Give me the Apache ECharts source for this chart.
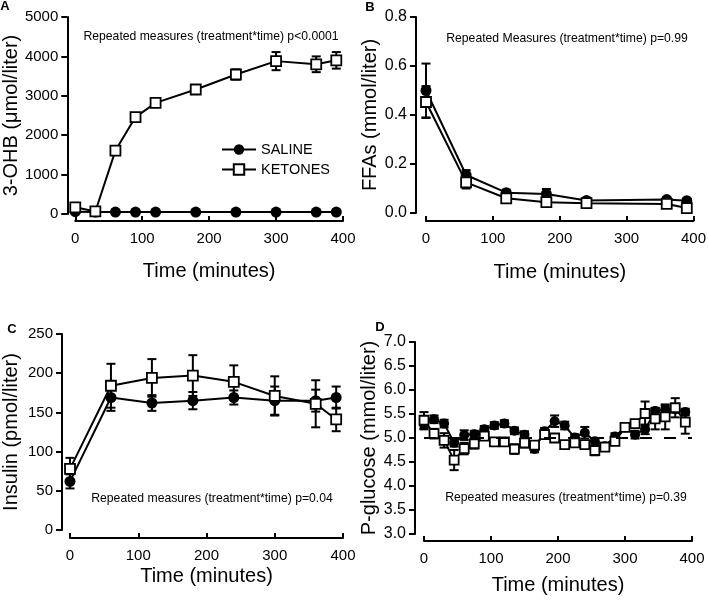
<!DOCTYPE html>
<html><head><meta charset="utf-8">
<script src="https://cdn.jsdelivr.net/npm/echarts@6/dist/echarts.min.js"></script>
<style>html,body{margin:0;padding:0;background:#fff}#c{width:709px;height:600px}</style>
</head><body><div id="c"></div>
<script>
// ---------- Panel A: 3-OHB ----------
const timesA = [0, 30, 60, 90, 120, 180, 240, 300, 360, 390];
const salineA = [60, 50, 50, 50, 50, 50, 50, 50, 50, 50];
const salineA_sem = [30, 20, 20, 20, 20, 20, 20, 20, 20, 20];
const ketonesA = [170, 65, 1610, 2460, 2820, 3160, 3540, 3880, 3800, 3900];
const ketonesA_sem = [60, 30, 60, 70, 70, 60, 130, 230, 200, 210];

// ---------- Panel B: FFAs ----------
const timesB = [0, 60, 120, 180, 240, 360, 390];
const salineB = [0.50, 0.155, 0.083, 0.078, 0.051, 0.055, 0.050];
const salineB_sem = [0.11, 0.02, 0.012, 0.02, 0.008, 0.008, 0.008];
const ketonesB = [0.453, 0.125, 0.060, 0.044, 0.040, 0.037, 0.020];
const ketonesB_sem = [0.065, 0.025, 0.008, 0.006, 0.005, 0.005, 0.005];

// ---------- Panel C: Insulin ----------
const timesC = [0, 60, 120, 180, 240, 300, 360, 390];
const salineC = [62, 169, 162, 165, 169, 165, 165, 169];
const salineC_sem = [9, 17, 10, 11, 9, 18, 14, 14];
const ketonesC = [78, 184, 194, 197, 189, 171, 161, 141];
const ketonesC_sem = [14, 28, 24, 26, 21, 25, 30, 15];

// ---------- Panel D: P-glucose ----------
const timesD = [0, 15, 30, 45, 60, 75, 90, 105, 120, 135, 150, 165, 180, 195, 210, 225, 240, 255, 270, 285, 300, 315, 330, 345, 360, 375, 390];
const salineD = [5.28, 5.39, 5.30, 4.90, 5.06, 5.08, 5.18, 5.26, 5.30, 5.15, 5.07, 4.77, 5.14, 5.35, 5.26, 5.01, 5.11, 4.93, 4.83, 5.03, 5.22, 5.07, 5.18, 5.56, 5.60, 5.60, 5.54];
const salineD_sem = [0.10, 0.08, 0.08, 0.08, 0.10, 0.07, 0.07, 0.07, 0.07, 0.07, 0.07, 0.07, 0.07, 0.12, 0.08, 0.07, 0.12, 0.07, 0.07, 0.07, 0.07, 0.08, 0.10, 0.07, 0.07, 0.07, 0.07];
const ketonesD = [5.37, 5.09, 4.95, 4.54, 4.78, 4.88, 5.04, 4.92, 4.92, 4.77, 4.90, 4.85, 5.07, 5.00, 4.86, 4.90, 4.86, 4.74, 4.81, 4.93, 5.22, 5.30, 5.51, 5.40, 5.44, 5.63, 5.33];
const ketonesD_sem = [0.17, 0.10, 0.15, 0.21, 0.12, 0.10, 0.06, 0.06, 0.06, 0.10, 0.10, 0.08, 0.06, 0.06, 0.07, 0.06, 0.07, 0.10, 0.06, 0.06, 0.05, 0.08, 0.25, 0.22, 0.26, 0.20, 0.24];
const refLineD = 5.0;

const seriesNames = ['SALINE', 'KETONES'];
const annotations = [
  'Repeated measures (treatment*time) p<0.0001',
  'Repeated Measures (treatment*time) p=0.99',
  'Repeated measures (treatment*time) p=0.04',
  'Repeated measures (treatment*time) p=0.39'
];
const panelLetters = ['A', 'B', 'C', 'D'];
const yTitles = ['3-OHB (\u03bcmol/liter)', 'FFAs (mmol/liter)', 'Insulin (pmol/liter)', 'P-glucose (mmol/liter)'];
const xTitle = 'Time (minutes)';

const FONT = 'Liberation Sans, Arial, sans-serif';

const grids = [
  {left: 70, top: 17, width: 273, height: 197},
  {left: 426, top: 17, width: 271, height: 196},
  {left: 70, top: 334, width: 273, height: 196},
  {left: 424, top: 342, width: 268, height: 192}
];
const yCfg = [
  {min: 0, max: 5000, interval: 1000, dec: 0, off: 8, gap: 43, fs: 15},
  {min: 0, max: 0.8, interval: 0.2, dec: 1, off: 10, gap: 35, fs: 16},
  {min: 0, max: 250, interval: 50, dec: 0, off: 8, gap: 41, fs: 15},
  {min: 3.0, max: 7.0, interval: 0.5, dec: 1, off: 9, gap: 35, fs: 16}
];
const xCfg = [
  {off: 7, gap: 40},
  {off: 8, gap: 41},
  {off: 8, gap: 28},
  {off: 7, gap: 34}
];

function xAx(i) {
  return {
    type: 'value', gridIndex: i, min: 0, max: 400, interval: 100, offset: xCfg[i].off,
    axisLine: {onZero: false, lineStyle: {color: '#000', width: 2}},
    axisTick: {show: true, inside: true, length: 5, lineStyle: {color: '#000', width: 2}},
    axisLabel: {color: '#000', fontSize: 15, fontFamily: FONT, margin: 10},
    splitLine: {show: false},
    name: xTitle, nameLocation: 'middle', nameGap: xCfg[i].gap,
    nameTextStyle: {color: '#000', fontSize: 20, fontFamily: FONT}
  };
}
function yAx(i) {
  const c = yCfg[i];
  return {
    type: 'value', gridIndex: i, min: c.min, max: c.max, interval: c.interval, offset: c.off,
    axisLine: {show: true, onZero: false, lineStyle: {color: '#000', width: 2}},
    axisTick: {show: true, inside: false, length: 6, lineStyle: {color: '#000', width: 2}},
    axisLabel: {color: '#000', fontSize: c.fs, fontFamily: FONT, margin: 9,
      formatter: v => Number(v).toFixed(c.dec)},
    splitLine: {show: false},
    name: yTitles[i], nameLocation: 'middle', nameGap: c.gap,
    nameTextStyle: {color: '#000', fontSize: 20, fontFamily: FONT}
  };
}

function errSeries(i, times, mean, sem, capW) {
  return {
    type: 'custom', xAxisIndex: i, yAxisIndex: i, z: 1, silent: true,
    data: times.map((t, k) => [t, mean[k] - sem[k], mean[k] + sem[k]]),
    encode: {x: 0, y: [1, 2]},
    renderItem: function (params, api) {
      const x = api.value(0);
      const lo = api.coord([x, api.value(1)]);
      const hi = api.coord([x, api.value(2)]);
      const hw = capW / 2;
      const style = {stroke: '#000', lineWidth: 2};
      return {type: 'group', children: [
        {type: 'line', shape: {x1: lo[0], y1: lo[1], x2: hi[0], y2: hi[1]}, style: style},
        {type: 'line', shape: {x1: hi[0] - hw, y1: hi[1], x2: hi[0] + hw, y2: hi[1]}, style: style},
        {type: 'line', shape: {x1: lo[0] - hw, y1: lo[1], x2: lo[0] + hw, y2: lo[1]}, style: style}
      ]};
    }
  };
}
function lineSeries(name, i, times, vals, circle, size, zz) {
  return {
    type: 'line', name: name, xAxisIndex: i, yAxisIndex: i, z: zz,
    data: times.map((t, k) => [t, vals[k]]),
    symbol: circle ? 'circle' : 'rect', symbolSize: size, showSymbol: true, showAllSymbol: true,
    lineStyle: {color: '#000', width: 2},
    itemStyle: circle ? {color: '#000', borderColor: '#000', borderWidth: 0} : {color: '#fff', borderColor: '#000', borderWidth: 1.8},
    emphasis: {disabled: true}
  };
}

const series = [];
const sets = [
  [timesA, salineA, salineA_sem, ketonesA, ketonesA_sem, 11],
  [timesB, salineB, salineB_sem, ketonesB, ketonesB_sem, 11],
  [timesC, salineC, salineC_sem, ketonesC, ketonesC_sem, 11],
  [timesD, salineD, salineD_sem, ketonesD, ketonesD_sem, 10]
];
sets.forEach((s, i) => {
  series.push(errSeries(i, s[0], s[1], s[2], 9));
  series.push(errSeries(i, s[0], s[3], s[4], 9));
  series.push(lineSeries(seriesNames[0], i, s[0], s[1], true, s[5], 3));
  series.push(lineSeries(seriesNames[1], i, s[0], s[3], false, s[5] - 1, 4));
});
series.push({
  type: 'line', xAxisIndex: 3, yAxisIndex: 3, data: [], z: 0, silent: true,
  markLine: {silent: true, symbol: 'none', label: {show: false}, animation: false,
    lineStyle: {color: '#000', type: [12, 12], width: 2},
    data: [{yAxis: refLineD}]}
});

const annPos = [[211, 37], [567, 39], [212, 499], [566, 498]];
const letterPos = [[5, 6], [370, 7], [12, 329], [380, 327]];
const graphic = [];
annotations.forEach((t, i) => graphic.push({
  type: 'text', x: annPos[i][0], y: annPos[i][1], z: 10,
  style: {text: t, x: 0, y: 0, fill: '#000', font: '12.2px ' + FONT, textAlign: 'center', textVerticalAlign: 'middle'}
}));
panelLetters.forEach((t, i) => graphic.push({
  type: 'text', x: letterPos[i][0], y: letterPos[i][1], z: 10,
  style: {text: t, x: 0, y: 0, fill: '#000', font: 'bold 13px ' + FONT, textAlign: 'center', textVerticalAlign: 'middle'}
}));

const chart = echarts.init(document.getElementById('c'), null, {renderer: 'canvas'});
chart.setOption({
  animation: false,
  backgroundColor: '#fff',
  grid: grids.map(g => Object.assign({containLabel: false}, g)),
  xAxis: [0, 1, 2, 3].map(xAx),
  yAxis: [0, 1, 2, 3].map(yAx),
  legend: {
    data: seriesNames, orient: 'vertical', left: 216, top: 137,
    itemWidth: 34, itemHeight: 13, itemGap: 5, selectedMode: false,
    textStyle: {color: '#000', fontSize: 14.5, fontFamily: FONT}
  },
  graphic: graphic,
  series: series
});
</script>
</body></html>
